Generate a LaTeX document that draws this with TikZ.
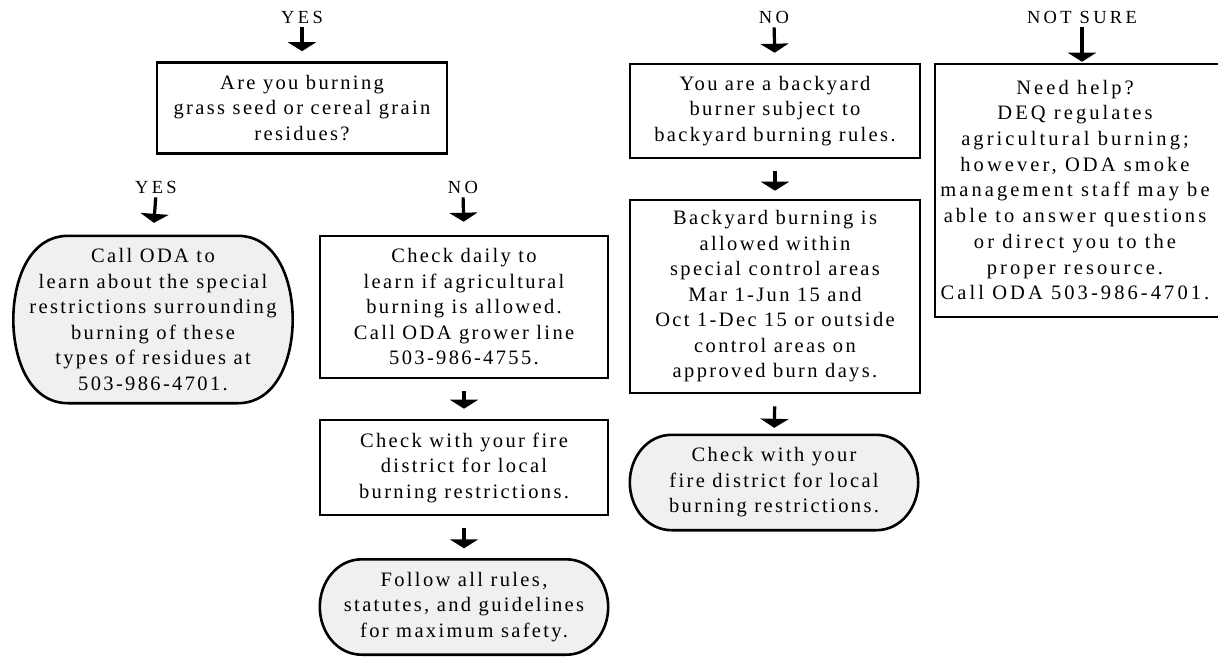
\documentclass[tikz,border=0pt]{standalone}
\usepackage{fontspec}
\setmainfont{Liberation Serif}[LetterSpace=11.5]
\newfontfamily\helpfont{Liberation Serif}[LetterSpace=15]
\newfontfamily\lblfont{Liberation Serif}[LetterSpace=18]
\usetikzlibrary{arrows.meta}
\pgfdeclarelayer{bg}
\pgfsetlayers{bg,main}
\tikzset{
  boxtxt/.style={align=center, inner sep=0pt, font=\fontsize{20.5}{25.5}\selectfont},
  boxline/.style={draw, line width=2.6pt},
  sqbox/.style={boxtxt, boxline},
  pillbox/.style={boxtxt},
  pillline/.style={draw, line width=2.6pt, fill=black!6},
  lbl/.style={inner sep=0pt, font=\lblfont\fontsize{18.5}{20}\selectfont},
  dnarr/.style={line width=3.2pt, -{Triangle[width=28pt,length=9pt]}},
}
\newcommand\pillpath[2]{%
  \draw[pillline] ([xshift=#2]#1.north west) -- ([xshift=-#2]#1.north east)
    to[out=0,in=90] (#1.east) to[out=-90,in=0] ([xshift=-#2]#1.south east)
    -- ([xshift=#2]#1.south west) to[out=180,in=-90] (#1.west)
    to[out=90,in=180] cycle;}
\begin{document}
\begin{tikzpicture}[x=1pt,y=-1pt]
\useasboundingbox (0,0) rectangle (1218,657);
% column 1: YES
\node[lbl] (lyesA) at (302,17) {YES};
\node[sqbox, minimum width=290pt, minimum height=91pt] (q1) at (302,108)
  {Are you burning\\grass seed or cereal grain\\residues?};
\node[lbl] (lyesB) at (156,187) {YES};
\node[pillbox, minimum width=279pt, minimum height=167pt] (calloda) at (153,319.5)
  {Call ODA to\\learn about the special\\restrictions surrounding\\burning of these\\types of residues at\\503-986-4701.};
\node[lbl] (lnoB) at (463,187) {NO};
\node[sqbox, minimum width=288pt, minimum height=142pt] (daily) at (464,307)
  {Check daily to\\learn if agricultural\\burning is allowed.\\Call ODA grower line\\503-986-4755.};
\node[sqbox, minimum width=288pt, minimum height=95pt] (fireA) at (464,467.5)
  {Check with your fire\\district for local\\burning restrictions.};
\node[pillbox, minimum width=288pt, minimum height=95pt] (follow) at (464,607)
  {Follow all rules,\\statutes, and guidelines\\for maximum safety.};
% column: NO
\node[lbl] (lnoA) at (774,17) {NO};
\node[sqbox, minimum width=290pt, minimum height=94pt] (backyard) at (775,111)
  {You are a backyard\\burner subject to\\backyard burning rules.};
\node[sqbox, minimum width=290pt, minimum height=193pt] (allowed) at (775,296.5)
  {Backyard burning is\\allowed within\\special control areas\\Mar 1-Jun 15 and\\Oct 1-Dec 15 or outside\\control areas on\\approved burn days.};
\node[pillbox, minimum width=288pt, minimum height=95pt] (fireB) at (774,482.5)
  {Check with your\\fire district for local\\burning restrictions.};
% column: NOT SURE
\node[lbl] (lns) at (1082,17) {NOT SURE};
\node[boxtxt, font=\helpfont\fontsize{20.5}{25.7}\selectfont] (help) at (1075,190)
  {Need help?\\DEQ regulates\\agricultural burning;\\however, ODA smoke\\management staff may be\\able to answer questions\\or direct you to the\\proper resource.\\Call ODA 503-986-4701.};
\draw[boxline] ([shift={(-140pt,126pt)}]help.center) rectangle ([shift={(152pt,-127pt)}]help.center);
% pills
\begin{pgfonlayer}{bg}
\pillpath{calloda}{55pt}
\pillpath{follow}{42pt}
\pillpath{fireB}{42pt}
\end{pgfonlayer}
% arrows
\draw[dnarr, shorten <=4pt, shorten >=10pt] (lyesA.south) -- (q1.north);
\draw[dnarr, shorten <=4pt, shorten >=13pt] (lyesB.south) -- (calloda.north);
\draw[dnarr, shorten <=4pt, shorten >=13pt] (lnoB.south) -- (daily.north);
\draw[dnarr, shorten <=12pt, shorten >=10pt] (daily.south) -- (fireA.north);
\draw[dnarr, shorten <=12pt, shorten >=11pt] (fireA.south) -- (follow.north);
\draw[dnarr, shorten <=4pt, shorten >=10pt] (lnoA.south) -- (backyard.north);
\draw[dnarr, shorten <=12pt, shorten >=8pt] (backyard.south) -- (allowed.north);
\draw[dnarr, shorten <=12pt, shorten >=7pt] (allowed.south) -- (fireB.north);
\draw[dnarr, shorten <=4pt, shorten >=18pt] (lns.south) -- ([xshift=7pt]help.north);
\end{tikzpicture}
\end{document}
